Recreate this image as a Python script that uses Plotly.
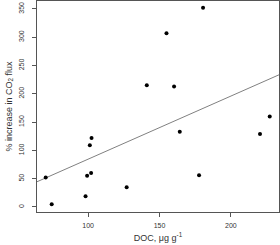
import numpy as np
import plotly.graph_objects as go

doc = [70.3, 74.5, 98.2, 99.3, 101.2, 102.1, 102.4, 127.0, 141.1, 154.9, 160.2, 164.2, 177.7, 180.5, 220.4, 227.2]
co2_increase = [52, 5, 19, 55, 109, 60, 122, 35, 215, 307, 213, 133, 56, 352, 129, 160]
x_ticks = [100, 150, 200]
y_ticks = [0, 50, 100, 150, 200, 250, 300, 350]

x_range = [64.2, 233.7]
y_range = [-8.9, 364]

slope, intercept = np.polyfit(doc, co2_increase, 1)
line_x = np.array(x_range)
line_y = slope * line_x + intercept

fig = go.Figure()
fig.add_trace(go.Scatter(x=line_x, y=line_y, mode="lines",
                         line=dict(color="#808080", width=1), hoverinfo="skip"))
fig.add_trace(go.Scatter(x=doc, y=co2_increase, mode="markers",
                         marker=dict(color="black", size=4)))

font = "Liberation Sans, Arial, sans-serif"
fig.update_layout(
    width=280, height=245,
    margin=dict(l=37, r=1, t=1, b=33),
    plot_bgcolor="white", paper_bgcolor="white",
    showlegend=False,
    font=dict(family=font, size=7, color="#333333"),
    xaxis=dict(range=x_range, tickvals=x_ticks, showgrid=False, zeroline=False,
               showline=True, mirror=True, linecolor="#555555", linewidth=1,
               ticks="outside", ticklen=4, tickcolor="#555555",
               tickfont=dict(size=7), ticklabelstandoff=3, automargin=False,
               title=dict(text="DOC, μg g<sup>-1</sup>", font=dict(size=9), standoff=6)),
    yaxis=dict(range=y_range, tickvals=y_ticks, showgrid=False, zeroline=False,
               showline=True, mirror=True, linecolor="#555555", linewidth=1,
               ticks="outside", ticklen=4, tickcolor="#555555",
               tickangle=-90, tickfont=dict(size=7), ticklabelstandoff=5, automargin=False,
               title=dict(text="% increase in CO<sub>2</sub> flux", font=dict(size=9), standoff=4)),
)

fig.write_html("out.html", config={"displayModeBar": False},
               post_script="document.body.style.margin='0';document.body.style.overflow='hidden';")
